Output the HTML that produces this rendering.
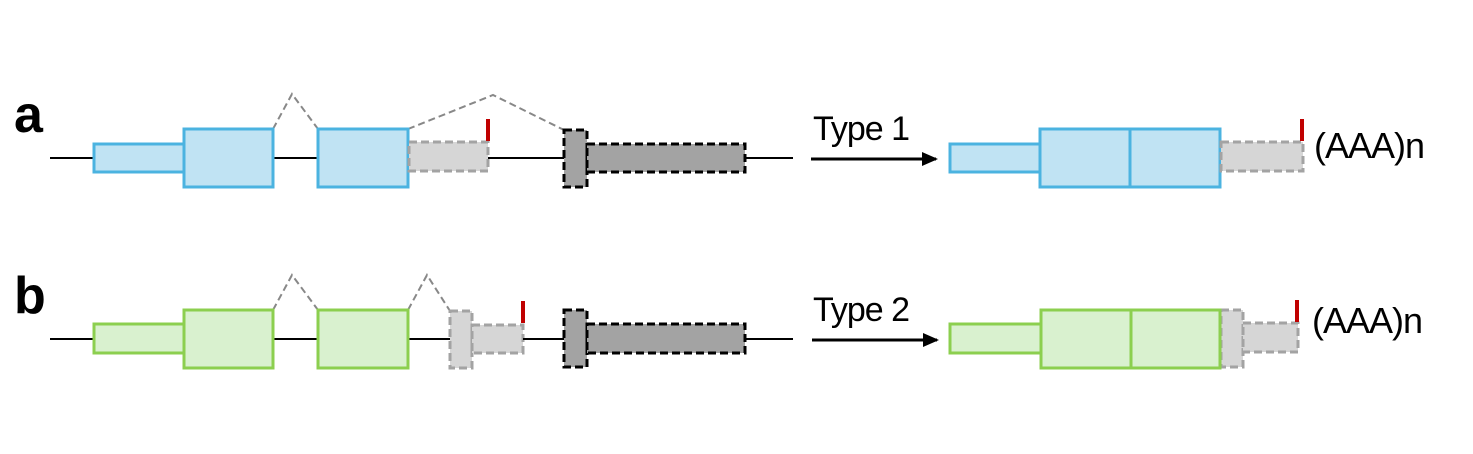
<!DOCTYPE html>
<html><head><style>body{margin:0;background:#fff}svg{display:block}</style></head><body>
<svg width="1473" height="454" viewBox="0 0 1473 454" xmlns="http://www.w3.org/2000/svg" font-family="Liberation Sans, Arial, sans-serif">
<defs><marker id="ah" markerWidth="16" markerHeight="16" refX="14" refY="8" orient="auto" markerUnits="userSpaceOnUse"><path d="M0,1 L16,8 L0,15 z" fill="#000"/></marker></defs>
<text x="14" y="132" font-size="52" font-weight="bold">a</text>
<text x="14" y="313" font-size="52" font-weight="bold">b</text>
<line x1="50" y1="158" x2="793" y2="158" stroke="#000" stroke-width="2"/>
<g fill="none" stroke="#888" stroke-width="2" stroke-dasharray="7,4">
<polyline points="273,129 292,94 318,129"/><polyline points="408,129 493,95 564,130"/>
<polyline points="273,310 292,275 318,310"/><polyline points="408,310 427,275 450,311"/>
</g>
<g fill="#c0e3f3" stroke="#4bb3e0" stroke-width="3">
<rect x="94" y="144" width="90" height="28"/><rect x="184" y="129" width="89" height="58"/><rect x="318" y="129" width="90" height="58"/>
<rect x="950" y="144" width="90" height="28"/><rect x="1040" y="129" width="180" height="58"/><line x1="1130" y1="129" x2="1130" y2="187"/>
</g>
<g fill="#d6d6d6" stroke="#a3a3a3" stroke-width="3" stroke-dasharray="8,4">
<rect x="409" y="142" width="79" height="29"/><rect x="1221" y="142" width="82" height="29"/>
<rect x="450" y="311" width="22" height="57"/><rect x="472" y="325" width="51" height="28"/>
<rect x="1221" y="310" width="22" height="57"/><rect x="1243" y="323" width="55" height="29"/>
</g>
<g fill="#a3a3a3" stroke="#000" stroke-width="3" stroke-dasharray="8,4">
<rect x="564" y="130" width="23" height="57"/><rect x="587" y="144" width="158" height="28"/>
<rect x="564" y="310" width="23" height="57"/><rect x="587" y="324" width="158" height="29"/>
</g>
<g stroke="#c00000" stroke-width="4">
<line x1="488" y1="119" x2="488" y2="141"/><line x1="1302" y1="119" x2="1302" y2="141"/>
<line x1="523" y1="301" x2="523" y2="323"/><line x1="1297" y1="300" x2="1297" y2="322"/>
</g>
<line x1="50" y1="339" x2="94" y2="339" stroke="#000" stroke-width="2"/>
<line x1="273" y1="339" x2="318" y2="339" stroke="#000" stroke-width="2"/>
<line x1="408" y1="339" x2="450" y2="339" stroke="#000" stroke-width="2"/>
<line x1="523" y1="339" x2="564" y2="339" stroke="#000" stroke-width="2"/>
<line x1="745" y1="339" x2="793" y2="339" stroke="#000" stroke-width="2"/>
<g fill="#d9f1cf" stroke="#8ccf4f" stroke-width="3">
<rect x="94" y="324" width="90" height="29"/><rect x="184" y="310" width="89" height="58"/><rect x="318" y="310" width="90" height="58"/>
<rect x="950" y="324" width="91" height="29"/><rect x="1041" y="310" width="179" height="58"/><line x1="1131" y1="310" x2="1131" y2="368"/>
</g>
<line x1="811" y1="159" x2="936" y2="159" stroke="#000" stroke-width="3" marker-end="url(#ah)"/>
<line x1="812" y1="340" x2="937" y2="340" stroke="#000" stroke-width="3" marker-end="url(#ah)"/>
<text x="813" y="140" font-size="34" letter-spacing="-1">Type 1</text>
<text x="813" y="321" font-size="34" letter-spacing="-1">Type 2</text>
<text x="1314" y="158" font-size="36" letter-spacing="-1">(AAA)n</text>
<text x="1312" y="333" font-size="36" letter-spacing="-1">(AAA)n</text>
</svg>
</body></html>
